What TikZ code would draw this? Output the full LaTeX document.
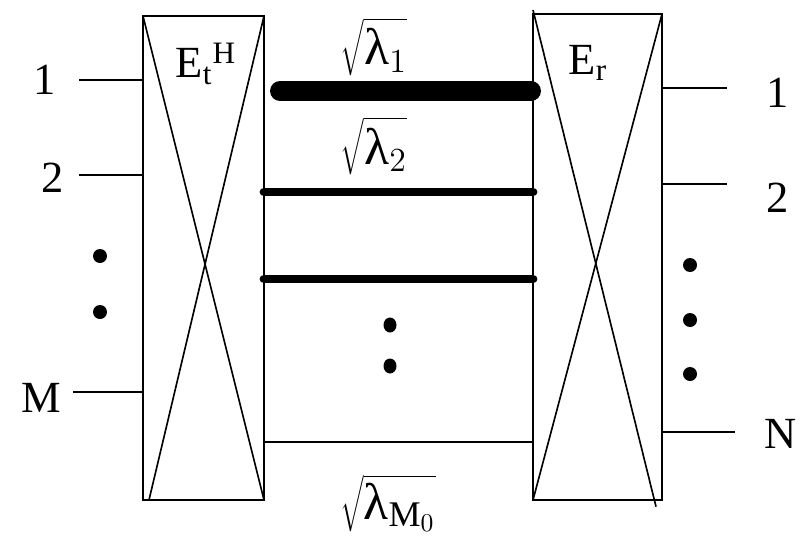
\documentclass[tikz,border=0pt]{standalone}
\usepackage{fontspec}
\setmainfont{Liberation Serif}
\usepackage{tikz}
\usetikzlibrary{positioning, fit}
\newcommand{\gainlbl}[1]{$\sqrt{\rule{0pt}{0.78em}\mbox{λ}_{#1}}$}

\begin{document}
\begin{tikzpicture}[x=0.15mm, y=-0.15mm, font=\fontsize{19}{22}\selectfont,
    matbox/.style={draw, line width=0.9pt, inner sep=0pt, outer sep=0pt},
    cross/.style={line width=0.7pt},
    port/.style={line width=0.7pt},
    mode/.style={line cap=round},
    lbl/.style={inner sep=0pt},
    gain/.style={inner sep=0pt, anchor=base, font=\fontsize{22}{25}\selectfont}]
    \useasboundingbox (0,0) rectangle (800,537);
    % boxes
    \coordinate (lnw) at (143,16);
    \coordinate (lse) at (264,500);
    \coordinate (rnw) at (533,14);
    \coordinate (rse) at (662,500);
    \node[matbox, fit=(lnw)(lse)] (etx) {};
    \node[matbox, fit=(rnw)(rse)] (erx) {};
    \draw[cross] (etx.north west) -- (etx.south east);
    \draw[cross] (etx.north east) -- ([xshift=0.9mm]etx.south west);
    \draw[cross] ([yshift=0.6mm]erx.north west) -- ([xshift=-0.9mm,yshift=-1mm]erx.south east);
    \draw[cross] (erx.north east) -- (erx.south west);
    \node[lbl, anchor=base] (ethl) at (206,78) {E\textsubscript{t}\textsuperscript{H}};
    \node[lbl, anchor=base] (erl) at (588,74) {E\textsubscript{r}};
    % transmit side
    \node[lbl] (tx1) at (45,80) {1};
    \node[lbl] (tx2) at (53,178) {2};
    \node[lbl] (txm) at (41,398) {M};
    \coordinate (ptx1) at (79,80);
    \coordinate (ptx2) at (79,175);
    \coordinate (ptxm) at (73,392);
    \draw[port] (ptx1) -- (etx.west |- ptx1);
    \draw[port] (ptx2) -- (etx.west |- ptx2);
    \draw[port] (ptxm) -- (etx.west |- ptxm);
    \fill (100,256) circle (7);
    \fill (100,312) circle (7);
    % receive side
    \node[lbl] (rx1) at (778,93) {1};
    \node[lbl] (rx2) at (778,198) {2};
    \node[lbl] (rxn) at (781,434) {N};
    \coordinate (prx1) at (727,88);
    \coordinate (prx2) at (727,184);
    \coordinate (prxn) at (735,432);
    \draw[port] (erx.east |- prx1) -- (prx1);
    \draw[port] (erx.east |- prx2) -- (prx2);
    \draw[port] (erx.east |- prxn) -- (prxn);
    \fill (690,265) circle (7);
    \fill (690,320) circle (7);
    \fill (690,374) circle (7);
    % eigenmodes
    \coordinate (m1) at (0,91);
    \coordinate (m2) at (0,192);
    \coordinate (m3) at (0,279);
    \coordinate (m4) at (0,442);
    \draw[mode, line width=8.5pt] ([xshift=2.4mm]etx.east |- m1) -- ([xshift=-0.3mm]erx.west |- m1);
    \draw[mode, line width=3.8pt] (etx.east |- m2) -- (erx.west |- m2);
    \draw[mode, line width=3.8pt] (etx.east |- m3) -- (erx.west |- m3);
    \draw[line width=1.1pt] (etx.east |- m4) -- (erx.west |- m4);
    \fill (390,325) ellipse (6.5 and 7.5);
    \fill (390,366) ellipse (6.5 and 7.5);
    \node[gain] (sv1) at (374,65) {\gainlbl{1}};
    \node[gain] (sv2) at (374,164) {\gainlbl{2}};
    \node[gain] (svm) at (388,519) {\gainlbl{\mathrm{M}_0}};
\end{tikzpicture}
\end{document}
